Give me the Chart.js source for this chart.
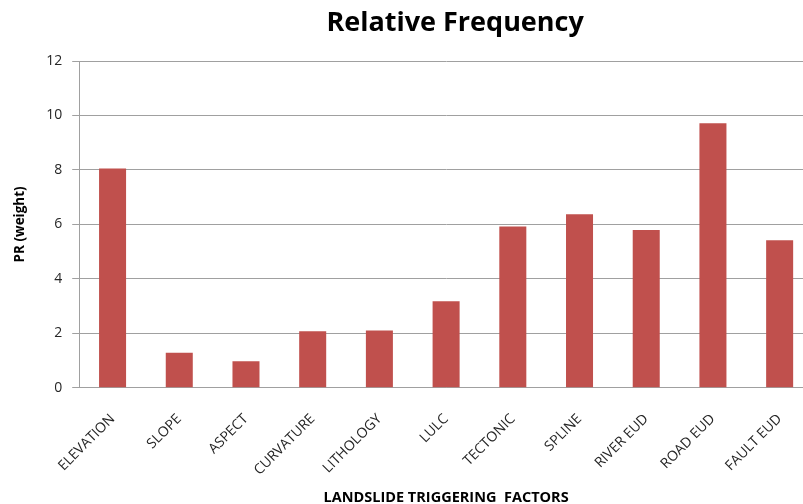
<!DOCTYPE html>
<html>
<head>
<meta charset="utf-8">
<script src="https://cdn.jsdelivr.net/npm/chart.js@4/dist/chart.umd.min.js"></script>
<style>
  html, body { margin: 0; padding: 0; background: #ffffff; overflow: hidden; }
  #wrap { width: 816px; height: 504px; }
</style>
</head>
<body>
<div id="wrap"><canvas id="chart" width="816" height="504"></canvas></div>
<script>
// Landslide triggering factors and their relative frequency weights
const factors = ['ELEVATION', 'SLOPE', 'ASPECT', 'CURVATURE', 'LITHOLOGY', 'LULC',
                 'TECTONIC', 'SPLINE', 'RIVER EUD', 'ROAD EUD', 'FAULT EUD'];
const prWeight = [8.05, 1.28, 0.97, 2.07, 2.10, 3.18, 5.92, 6.37, 5.79, 9.71, 5.42];
const yTicks = [0, 2, 4, 6, 8, 10, 12];

const chartTitle = 'Relative Frequency';
const xTitle = 'LANDSLIDE TRIGGERING  FACTORS';
const yTitle = 'PR (weight)';

// Title drawn above the plot area
const titlePlugin = {
  id: 'topTitle',
  afterDraw(chart) {
    const { ctx, chartArea } = chart;
    ctx.save();
    ctx.font = 'bold 27px "Open Sans", sans-serif';
    ctx.fillStyle = '#000000';
    ctx.textAlign = 'center';
    ctx.textBaseline = 'middle';
    ctx.fillText(chartTitle, (chartArea.left + chartArea.right) / 2 + 9, 23);
    ctx.restore();
  }
};

const gridGray = '#a0a0a0';

new Chart(document.getElementById('chart'), {
  type: 'bar',
  data: {
    labels: factors,
    datasets: [{
      data: prWeight,
      backgroundColor: '#c0504d',
      borderWidth: 0,
      categoryPercentage: 1.0,
      barPercentage: 0.405
    }]
  },
  options: {
    responsive: false,
    animation: false,
    layout: { padding: { top: 61, right: 3, left: 12, bottom: -3 } },
    plugins: {
      legend: { display: false },
      tooltip: { enabled: false }
    },
    scales: {
      x: {
        grid: { display: false, drawTicks: false },
        border: { display: true, color: gridGray, width: 1 },
        ticks: {
          color: '#262626',
          font: { family: '"Open Sans", sans-serif', size: 14 },
          minRotation: 45,
          maxRotation: 45,
          padding: 23,
          autoSkip: false
        },
        title: {
          display: true,
          text: xTitle,
          color: '#000000',
          font: { family: '"Open Sans", sans-serif', size: 14.5, weight: 'bold' },
          padding: { top: -12, bottom: 0 }
        }
      },
      y: {
        min: 0,
        max: 12,
        afterBuildTicks(axis) { axis.ticks = yTicks.map(v => ({ value: v })); },
        grid: { color: gridGray, lineWidth: 1, tickLength: 7, drawTicks: true },
        border: { display: true, color: gridGray, width: 1 },
        ticks: {
          color: '#262626',
          font: { family: '"Open Sans", sans-serif', size: 14 },
          padding: 10
        },
        title: {
          display: true,
          text: yTitle,
          color: '#000000',
          font: { family: '"Open Sans", sans-serif', size: 13.5, weight: 'bold' },
          padding: { top: 0, bottom: 8 }
        }
      }
    }
  },
  plugins: [titlePlugin]
});
</script>
</body>
</html>
